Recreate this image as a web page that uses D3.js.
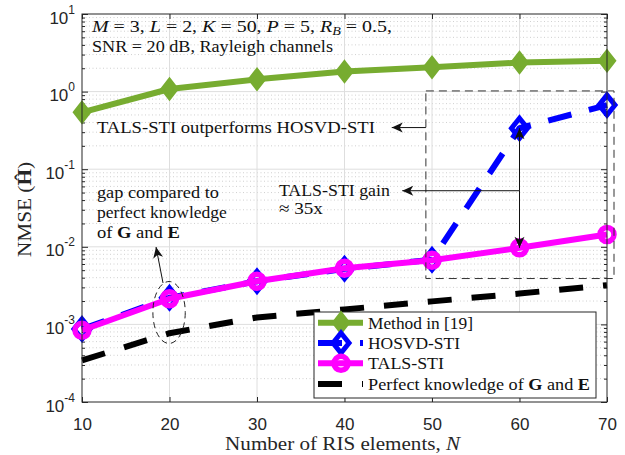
<!DOCTYPE html>
<html><head><meta charset="utf-8">
<script src="https://cdn.jsdelivr.net/npm/d3@7"></script>
<style>body{margin:0;background:#fff;} svg{display:block;}</style>
</head><body>
<script>
// ---- data ----
const risN = [10, 20, 30, 40, 50, 60, 70];
const method19 = [0.54, 1.08, 1.44, 1.81, 2.06, 2.37, 2.49];
const hosvdSTI = [0.00087, 0.0022, 0.0036, 0.0052, 0.0068, 0.337, 0.67];
const talsSTI = [0.00084, 0.00214, 0.0036, 0.0053, 0.0067, 0.0097, 0.0144];
const perfectGE = [0.000344, 0.00077, 0.00123, 0.00156, 0.00198, 0.0025, 0.0032];
const xTicks = [10, 20, 30, 40, 50, 60, 70];
const yDecades = [1e-4, 1e-3, 1e-2, 1e-1, 1e0, 1e1];
const yDecadeExp = ["-4", "-3", "-2", "-1", "0", "1"];
const legendLabels = ["Method in [19]", "HOSVD-STI", "TALS-STI", "Perfect knowledge of G and E"];

const W = 625, H = 455;
const L = 82, R = 607, T = 14, B = 402;
const svg = d3.select("body").append("svg").attr("width", W).attr("height", H);
const x = d3.scaleLinear([10, 70], [L, R]);
const y = d3.scaleLog([1e-4, 1e1], [B, T]);

const serif = "'Liberation Serif', 'Times New Roman', serif";
const sans = "'Liberation Sans', Arial, sans-serif";
const axCol = "#262626";

function fit(t, len) { return t.attr("textLength", len).attr("lengthAdjust", "spacingAndGlyphs"); }

// minor values
const minors = [];
for (let e = -4; e < 1; e++) for (let m = 2; m <= 9; m++) minors.push(m * Math.pow(10, e));

// grid
const grid = svg.append("g");
grid.selectAll(".mg").data(minors).join("line")
  .attr("x1", L).attr("x2", R).attr("y1", d => y(d)).attr("y2", d => y(d))
  .attr("stroke", "#c4c4c4").attr("stroke-width", 0.8).attr("stroke-dasharray", "1,2.5");
grid.selectAll(".gy").data(yDecades.slice(1, -1)).join("line")
  .attr("x1", L).attr("x2", R).attr("y1", d => y(d)).attr("y2", d => y(d))
  .attr("stroke", "#dedede").attr("stroke-width", 1);
grid.selectAll(".gx").data(xTicks.slice(1, -1)).join("line")
  .attr("x1", d => x(d)).attr("x2", d => x(d)).attr("y1", T).attr("y2", B)
  .attr("stroke", "#dedede").attr("stroke-width", 1);

// axes
function styleAxis(g) {
  g.select(".domain").remove();
  g.selectAll(".tick line").attr("stroke", axCol);
}
svg.append("g").attr("transform", `translate(0,${B})`)
  .call(d3.axisBottom(x).tickValues(xTicks).tickSize(-5).tickPadding(16).tickFormat(d3.format("d")))
  .call(styleAxis)
  .call(g => g.selectAll("text").attr("font-family", sans).attr("font-size", 17).attr("fill", axCol));
svg.append("g").attr("transform", `translate(0,${T})`)
  .call(d3.axisTop(x).tickValues(xTicks).tickSize(-5).tickFormat(""))
  .call(styleAxis);
const yl = svg.append("g").attr("transform", `translate(${L},0)`)
  .call(d3.axisLeft(y).tickValues(yDecades).tickSize(-6).tickFormat(""))
  .call(styleAxis);
svg.append("g").attr("transform", `translate(${L},0)`)
  .call(d3.axisLeft(y).tickValues(minors).tickSize(-3).tickFormat(""))
  .call(styleAxis);
svg.append("g").attr("transform", `translate(${R},0)`)
  .call(d3.axisRight(y).tickValues(yDecades).tickSize(-6).tickFormat(""))
  .call(styleAxis);
svg.append("g").attr("transform", `translate(${R},0)`)
  .call(d3.axisRight(y).tickValues(minors).tickSize(-3).tickFormat(""))
  .call(styleAxis);
// y labels with superscripts
yl.selectAll(".tick").each(function (d, i) {
  const t = d3.select(this).append("text").attr("font-family", sans).attr("fill", axCol)
    .attr("text-anchor", "end").attr("x", -7).attr("y", 9);
  t.append("tspan").attr("font-size", 17).text("10");
  t.append("tspan").attr("font-size", 12).attr("dy", -10).text(yDecadeExp[i]);
});

// axis labels
fit(svg.append("text").attr("x", 342.6 - 117.5).attr("y", 450)
  .attr("font-family", serif).attr("font-size", 18).attr("fill", axCol), 235)
  .call(t => { t.append("tspan").text("Number of RIS elements, "); t.append("tspan").attr("font-style", "italic").text("N"); });
fit(svg.append("text").attr("transform", `translate(31,257) rotate(-90)`)
  .attr("font-family", serif).attr("font-size", 19).attr("fill", axCol), 95)
  .call(t => { t.append("tspan").text("NMSE ("); t.append("tspan").attr("font-weight", "bold").text("Ĥ"); t.append("tspan").text(")"); });

// series
const series = [
  { vals: method19, color: "#77AC30", dash: null, marker: "dg" },
  { vals: hosvdSTI, color: "#0000FF", dash: "24,18", marker: "db" },
  { vals: talsSTI, color: "#FF00FF", dash: null, marker: "o" },
  { vals: perfectGE, color: "#000000", dash: "24,20", marker: null }
];
const line = d3.line().x(d => x(d[0])).y(d => y(d[1]));
function diamond(w, h) { return `M0,${-h}L${w},0L0,${h}L${-w},0Z`; }
function drawMarker(g, m, color) {
  if (m === "dg") g.append("path").attr("d", diamond(7, 9)).attr("fill", color).attr("stroke", color).attr("stroke-width", 4).attr("stroke-linejoin", "miter");
  else if (m === "db") g.append("path").attr("d", diamond(8, 10)).attr("fill", "none").attr("stroke", color).attr("stroke-width", 5).attr("stroke-linejoin", "miter");
  else if (m === "o") g.append("circle").attr("r", 7).attr("fill", "none").attr("stroke", color).attr("stroke-width", 5.5);
}
const plot = svg.append("g");
series.forEach(s => {
  const pts = risN.map((n, i) => [n, s.vals[i]]);
  plot.append("path").attr("d", line(pts)).attr("fill", "none").attr("stroke", s.color)
    .attr("stroke-width", 6).attr("stroke-dasharray", s.dash).attr("stroke-linejoin", "round");
  if (s.marker) pts.forEach(p => {
    const g = plot.append("g").attr("transform", `translate(${x(p[0])},${y(p[1])})`);
    drawMarker(g, s.marker, s.color);
  });
});

// annotations (data units)
const ann = svg.append("g").attr("font-family", serif).attr("font-size", 17).attr("fill", "#111");
const infoLines = [[11.14, 5.86], [11.14, 3.24]];
const t1 = fit(ann.append("text").attr("x", x(infoLines[0][0])).attr("y", y(infoLines[0][1])), 300);
[["M", 1], [" = 3, ", 0], ["L", 1], [" = 2, ", 0], ["K", 1], [" = 50, ", 0], ["P", 1], [" = 5, ", 0], ["R", 1]].forEach(p => {
  t1.append("tspan").attr("font-style", p[1] ? "italic" : null).text(p[0]);
});
t1.append("tspan").attr("font-style", "italic").attr("font-size", 12).attr("dy", 3).text("B");
t1.append("tspan").attr("dy", -3).text(" = 0.5,");
fit(ann.append("text").attr("x", x(infoLines[1][0])).attr("y", y(infoLines[1][1])), 241).text("SNR = 20 dB, Rayleigh channels");

fit(ann.append("text").attr("x", x(11.7)).attr("y", y(0.292)), 278).text("TALS-STI outperforms HOSVD-STI");
fit(ann.append("text").attr("x", x(32.5)).attr("y", y(0.0452)), 111).text("TALS-STI gain");
fit(ann.append("text").attr("x", x(32.5)).attr("y", y(0.0265)), 44).text("≈ 35x");
const gapText = [0.0425, 0.0235, 0.013];
fit(ann.append("text").attr("x", x(11.7)).attr("y", y(gapText[0])), 122).text("gap compared to");
fit(ann.append("text").attr("x", x(11.7)).attr("y", y(gapText[1])), 130).text("perfect knowledge");
fit(ann.append("text").attr("x", x(11.7)).attr("y", y(gapText[2])), 83)
  .call(t => { t.append("tspan").text("of "); t.append("tspan").attr("font-weight", "bold").text("G");
    t.append("tspan").text(" and "); t.append("tspan").attr("font-weight", "bold").text("E"); });

// dashed box
const box = { n0: 49.3, n1: 70.8, v0: 0.0039, v1: 1.02 };
svg.append("rect").attr("x", x(box.n0)).attr("y", y(box.v1)).attr("width", x(box.n1) - x(box.n0))
  .attr("height", y(box.v0) - y(box.v1)).attr("fill", "none").attr("stroke", "#333")
  .attr("stroke-width", 1).attr("stroke-dasharray", "8,5");

// ellipse
const ell = { n0: 18.1, n1: 21.8, v0: 0.000568, v1: 0.00357 };
svg.append("ellipse").attr("cx", (x(ell.n0) + x(ell.n1)) / 2).attr("cy", (y(ell.v0) + y(ell.v1)) / 2)
  .attr("rx", (x(ell.n1) - x(ell.n0)) / 2).attr("ry", (y(ell.v0) - y(ell.v1)) / 2)
  .attr("fill", "none").attr("stroke", "#222").attr("stroke-width", 1).attr("stroke-dasharray", "6,4");

// arrows
function arrow(n0, v0, n1, v1) {
  const x0 = x(n0), y0 = y(v0), x1 = x(n1), y1 = y(v1);
  const a = Math.atan2(y1 - y0, x1 - x0) * 180 / Math.PI;
  svg.append("line").attr("x1", x0).attr("y1", y0).attr("x2", x1).attr("y2", y1)
    .attr("stroke", "#111").attr("stroke-width", 1);
  svg.append("path").attr("d", "M0,0L-11,-5L-8,0L-11,5Z").attr("fill", "#111")
    .attr("transform", `translate(${x1},${y1}) rotate(${a})`);
}
arrow(49.3, 0.344, 45.4, 0.344);
arrow(60, 0.0528, 46.6, 0.0528);
arrow(60, 0.0528, 60, hosvdSTI[5]);
arrow(60, 0.0528, 60, talsSTI[5]);
arrow(19.26, 0.00342, 18.46, 0.00994);

// axes box
svg.append("rect").attr("x", L).attr("y", T).attr("width", R - L).attr("height", B - T)
  .attr("fill", "none").attr("stroke", axCol).attr("stroke-width", 1);

// legend
const lg = svg.append("g");
lg.append("rect").attr("x", 314).attr("y", 312).attr("width", 282).attr("height", 86)
  .attr("fill", "#fff").attr("stroke", axCol).attr("stroke-width", 1);
const rowY = [322.7, 343, 363.3, 384];
const legW = [105, 92, 76, 222];
series.forEach((s, i) => {
  lg.append("line").attr("x1", 318).attr("x2", 363).attr("y1", rowY[i]).attr("y2", rowY[i])
    .attr("stroke", s.color).attr("stroke-width", 6).attr("stroke-dasharray", s.dash);
  if (s.marker) { const g = lg.append("g").attr("transform", `translate(341,${rowY[i]})`); drawMarker(g, s.marker, s.color); }
  const t = fit(lg.append("text").attr("x", 368).attr("y", rowY[i] + 6).attr("font-family", serif).attr("font-size", 17.5).attr("fill", "#111"), legW[i]);
  if (i === 3) {
    t.append("tspan").text("Perfect knowledge of "); t.append("tspan").attr("font-weight", "bold").text("G");
    t.append("tspan").text(" and "); t.append("tspan").attr("font-weight", "bold").text("E");
  } else t.text(legendLabels[i]);
});
</script>
</body></html>
